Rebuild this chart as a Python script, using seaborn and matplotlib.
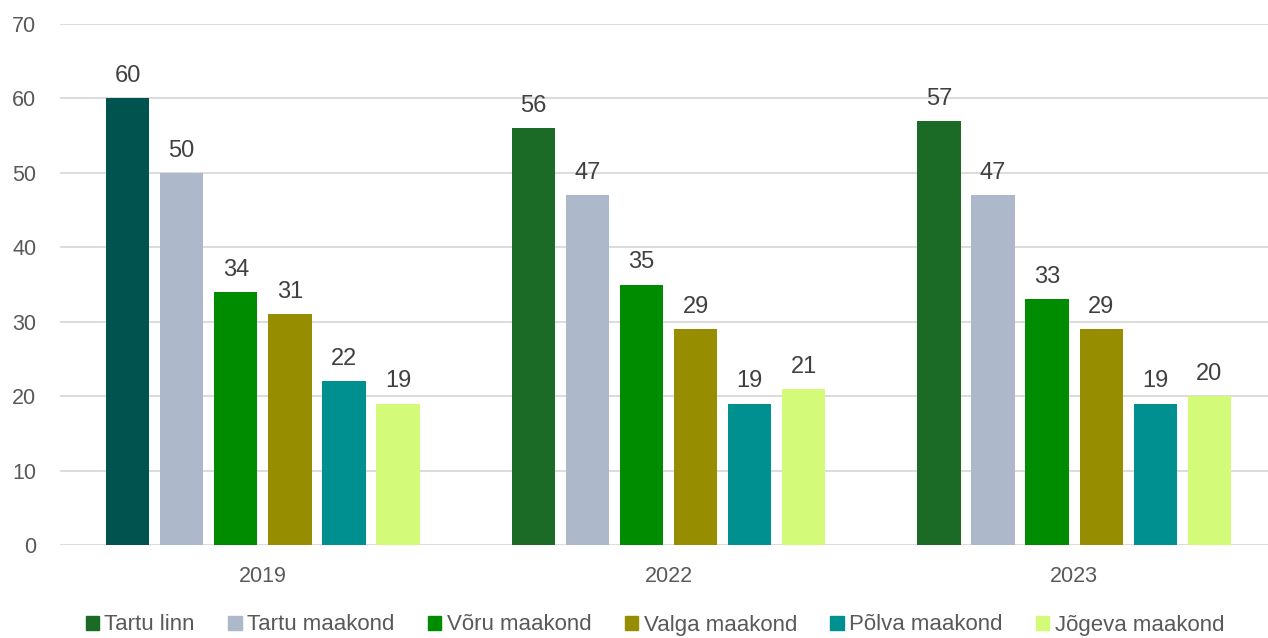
import matplotlib
matplotlib.use("Agg")
import matplotlib.pyplot as plt
from matplotlib import font_manager
import seaborn as sns
import pandas as pd

years = ["2019", "2022", "2023"]
regions = ["Tartu linn", "Tartu maakond", "Võru maakond", "Valga maakond", "Põlva maakond", "Jõgeva maakond"]
tartu_linn = [60, 56, 57]
tartu_maakond = [50, 47, 47]
voru = [34, 35, 33]
valga = [31, 29, 29]
polva = [22, 19, 19]
jogeva = [19, 21, 20]
colors = ["#1B6B27", "#ADB8CA", "#008C00", "#968E00", "#009090", "#D4FA7A"]
first_bar_color = "#00534F"

series = [tartu_linn, tartu_maakond, voru, valga, polva, jogeva]
rows = []
for r, vals in zip(regions, series):
    for y, v in zip(years, vals):
        rows.append({"year": y, "region": r, "value": v})
df = pd.DataFrame(rows)

installed = {f.name for f in font_manager.fontManager.ttflist}
main_font = "DejaVu Sans"
for cand in ["Liberation Sans", "Arimo", "Arial", "Roboto", "Noto Sans"]:
    if cand in installed:
        main_font = cand
        break

sns.set_style("white")
plt.rcParams["font.family"] = [main_font, "DejaVu Sans"]

fig = plt.figure(figsize=(12.68, 6.38), dpi=100)
left = 60 / 1268
bottom = 1 - 545 / 638
height = (545 - 24) / 638
ax = fig.add_axes([left, bottom, 1 - left, height])

sns.barplot(data=df, x="year", y="value", hue="region", hue_order=regions,
            order=years, palette=colors, width=0.8, ax=ax, saturation=1,
            legend=True)

for cont in ax.containers:
    for p in cont.patches:
        w = p.get_width()
        new_w = w * 0.8
        p.set_x(p.get_x() + (w - new_w) / 2)
        p.set_width(new_w)
        p.set_edgecolor("none")

ax.containers[0].patches[0].set_facecolor(first_bar_color)

for cont in ax.containers:
    ax.bar_label(cont, labels=[f"{int(v)}" for v in cont.datavalues], padding=8,
                 fontsize=17, color="#404040")

ax.set_ylim(0, 70)
ax.set_xlim(-0.5, 2.5 - 9 / 406)
ax.set_yticks(range(0, 71, 10))
ax.yaxis.grid(True, color="#D9D9D9", linewidth=1.3)
ax.set_axisbelow(True)
for s in ax.spines.values():
    s.set_visible(False)
ax.tick_params(axis="both", length=0, labelsize=15.5, labelcolor="#595959")
ax.tick_params(axis="y", pad=17)
ax.tick_params(axis="x", pad=15)
ax.set_xlabel("")
ax.set_ylabel("")

ax.get_legend().remove()
handles = [plt.Rectangle((0, 0), 1, 1, color=c) for c in colors]
fig.legend(handles, regions, loc="center", bbox_to_anchor=(655 / 1268, 1 - 625 / 638), ncol=6,
           frameon=False, handlelength=0.6, handleheight=0.6, handletextpad=0.25,
           columnspacing=1.5, prop={"size": 16}, labelcolor="#595959",
           borderpad=0, borderaxespad=0)

fig.savefig("out.png", dpi=100)
